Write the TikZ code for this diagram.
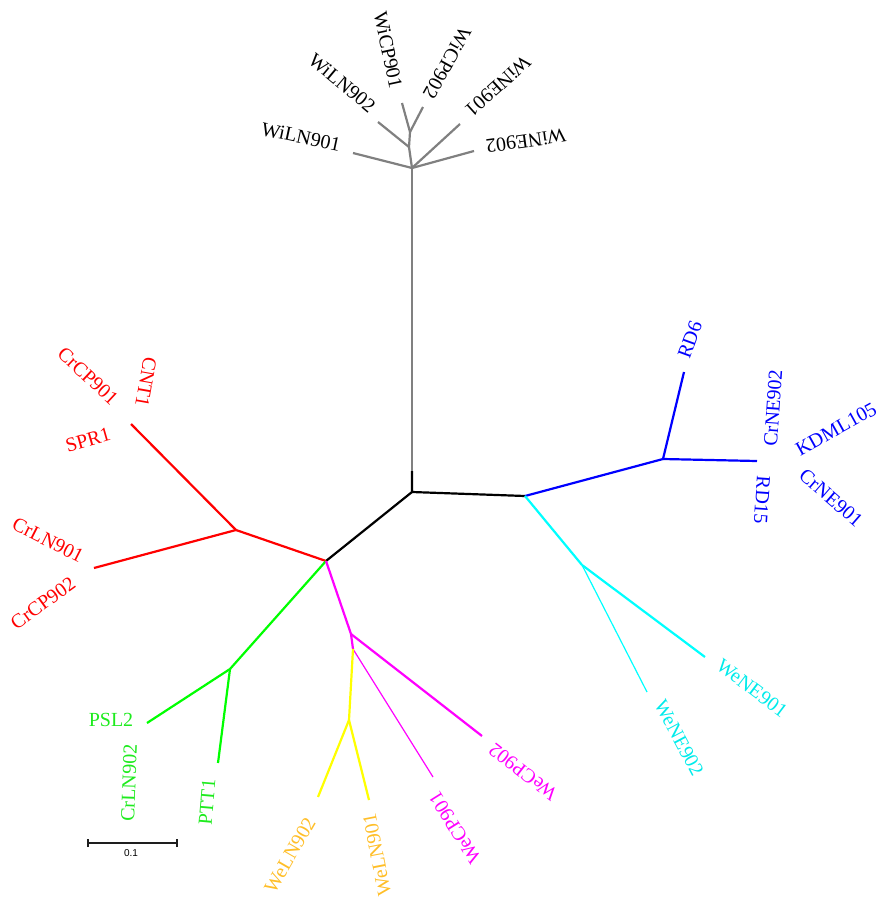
\documentclass[tikz,border=0pt]{standalone}
\usepackage{fontspec}
\setmainfont{Liberation Serif}
\setsansfont{Liberation Sans}
\definecolor{tgray}{RGB}{128,128,128}
\definecolor{tred}{RGB}{255,0,0}
\definecolor{tgreen}{RGB}{0,255,0}
\definecolor{lgreen}{RGB}{30,235,30}
\definecolor{tblue}{RGB}{0,0,255}
\definecolor{tcyan}{RGB}{0,255,255}
\definecolor{lcyan}{RGB}{0,235,235}
\definecolor{tmag}{RGB}{255,0,255}
\definecolor{tyel}{RGB}{255,255,0}
\definecolor{torange}{RGB}{255,190,40}
\begin{document}
\begin{tikzpicture}[x=1pt,y=-1pt,
  br/.style={line width=2.2pt, line join=round},
  thinbr/.style={line width=1.2pt, line join=round},
  lab/.style={font=\fontsize{20}{20}\selectfont, inner sep=0pt, anchor=center},
  bar/.style={line width=1.1pt, draw={rgb,255:red,30;green,30;blue,30}}]
\useasboundingbox (0,0) rectangle (880,900);
% ---- tree nodes ----
\coordinate (root) at (412,492);
\coordinate (rootg) at (412,471);
\coordinate (H) at (412,168);
\coordinate (N1) at (409,147);
\coordinate (N2) at (410,132);
\coordinate (tWiLN901) at (353,153);
\coordinate (tWiLN902) at (378,122);
\coordinate (tWiCP901) at (402,103);
\coordinate (tWiCP902) at (423,107);
\coordinate (tWiNE901) at (460,124);
\coordinate (tWiNE902) at (474,151);
\coordinate (R) at (525,496);
\coordinate (B) at (663,459);
\coordinate (tRD6) at (684,372);
\coordinate (tB4) at (757,461);
\coordinate (C) at (582,565);
\coordinate (tWeNE901) at (705,657);
\coordinate (tWeNE902) at (647,692);
\coordinate (L) at (326,561);
\coordinate (Rd) at (236,530);
\coordinate (tSPR1) at (131,424);
\coordinate (tCrLN901) at (94,568);
\coordinate (G) at (230,669);
\coordinate (tPSL2) at (147,723);
\coordinate (tPTT1) at (218,763);
\coordinate (M) at (351,634);
\coordinate (M2) at (353,649);
\coordinate (tWeCP902) at (482,736);
\coordinate (tWeCP901) at (433,777);
\coordinate (Y) at (349,720);
\coordinate (tWeLN902) at (318,797);
\coordinate (tWeLN901) at (369,800);
% ---- branches ----
\draw[br,black] (rootg) -- (root) -- (R);
\draw[br,black] (root) -- (L);
\draw[br,tgray] (rootg) -- (H);
\draw[br,tgray] (H) -- (N1) -- (N2);
\draw[br,tgray] (H) -- (tWiLN901);
\draw[br,tgray] (N1) -- (tWiLN902);
\draw[br,tgray] (N2) -- (tWiCP901);
\draw[br,tgray] (N2) -- (tWiCP902);
\draw[br,tgray] (H) -- (tWiNE901);
\draw[br,tgray] (H) -- (tWiNE902);
\draw[br,tblue] (R) -- (B);
\draw[br,tblue] (B) -- (tRD6);
\draw[br,tblue] (B) -- (tB4);
\draw[br,tcyan] (R) -- (C);
\draw[br,tcyan] (C) -- (tWeNE901);
\draw[thinbr,tcyan] (C) -- (tWeNE902);
\draw[br,tred] (L) -- (Rd);
\draw[br,tred] (Rd) -- (tSPR1);
\draw[br,tred] (Rd) -- (tCrLN901);
\draw[br,tgreen] (L) -- (G);
\draw[br,tgreen] (G) -- (tPSL2);
\draw[br,tgreen] (G) -- (tPTT1);
\draw[br,tmag] (L) -- (M) -- (M2);
\draw[br,tmag] (M) -- (tWeCP902);
\draw[thinbr,tmag] (M2) -- (tWeCP901);
\draw[br,tyel] (M2) -- (Y);
\draw[br,tyel] (Y) -- (tWeLN902);
\draw[br,tyel] (Y) -- (tWeLN901);
% ---- labels ----
\node[lab,black,rotate=-12] (lWiLN901) at (301,137) {WiLN901};
\node[lab,black,rotate=-40] (lWiLN902) at (342,83) {WiLN902};
\node[lab,black,rotate=-78] (lWiCP901) at (388,50) {WiCP901};
\node[lab,black,rotate=241] (lWiCP902) at (447,63) {WiCP902};
\node[lab,black,rotate=222] (lWiNE901) at (498,86) {WiNE901};
\node[lab,black,rotate=188] (lWiNE902) at (526,141) {WiNE902};
\node[lab,tred,rotate=-43] (lCrCP901) at (88,376) {CrCP901};
\node[lab,tred,rotate=-100] (lCNT1) at (146,382) {CNT1};
\node[lab,tred,rotate=16] (lSPR1) at (88,440) {SPR1};
\node[lab,tred,rotate=-27] (lCrLN901) at (48,540) {CrLN901};
\node[lab,tred,rotate=36] (lCrCP902) at (43,603) {CrCP902};
\node[lab,tblue,rotate=70] (lRD6) at (690,340) {RD6};
\node[lab,tblue,rotate=86] (lCrNE902) at (773,408) {CrNE902};
\node[lab,tblue,rotate=29] (lKDML105) at (836,429) {KDML105};
\node[lab,tblue,rotate=-94] (lRD15) at (762,500) {RD15};
\node[lab,tblue,rotate=-41] (lCrNE901) at (831,498) {CrNE901};
\node[lab,lcyan,rotate=-37] (lWeNE901) at (752,688) {WeNE901};
\node[lab,lcyan,rotate=-62] (lWeNE902) at (679,738) {WeNE902};
\node[lab,tmag,rotate=142] (lWeCP902) at (523,772) {WeCP902};
\node[lab,tmag,rotate=122] (lWeCP901) at (455,828) {WeCP901};
\node[lab,torange,rotate=101] (lWeLN901) at (377,855) {WeLN901};
\node[lab,torange,rotate=60] (lWeLN902) at (290,855) {WeLN902};
\node[lab,lgreen] (lPSL2) at (111,720) {PSL2};
\node[lab,lgreen,rotate=88] (lCrLN902) at (129,783) {CrLN902};
\node[lab,lgreen,rotate=85] (lPTT1) at (207,802) {PTT1};
% ---- scale bar ----
\coordinate (s1) at (88,843);
\coordinate (s2) at (177,843);
\draw[bar] (s1) -- (s2);
\draw[bar] ([yshift=-4pt]s1) -- ([yshift=4pt]s1);
\draw[bar] ([yshift=-4pt]s2) -- ([yshift=4pt]s2);
\node[font=\sffamily\fontsize{10}{10}\selectfont, inner sep=0pt] (sbl) at (131,853) {0.1};
\end{tikzpicture}
\end{document}
